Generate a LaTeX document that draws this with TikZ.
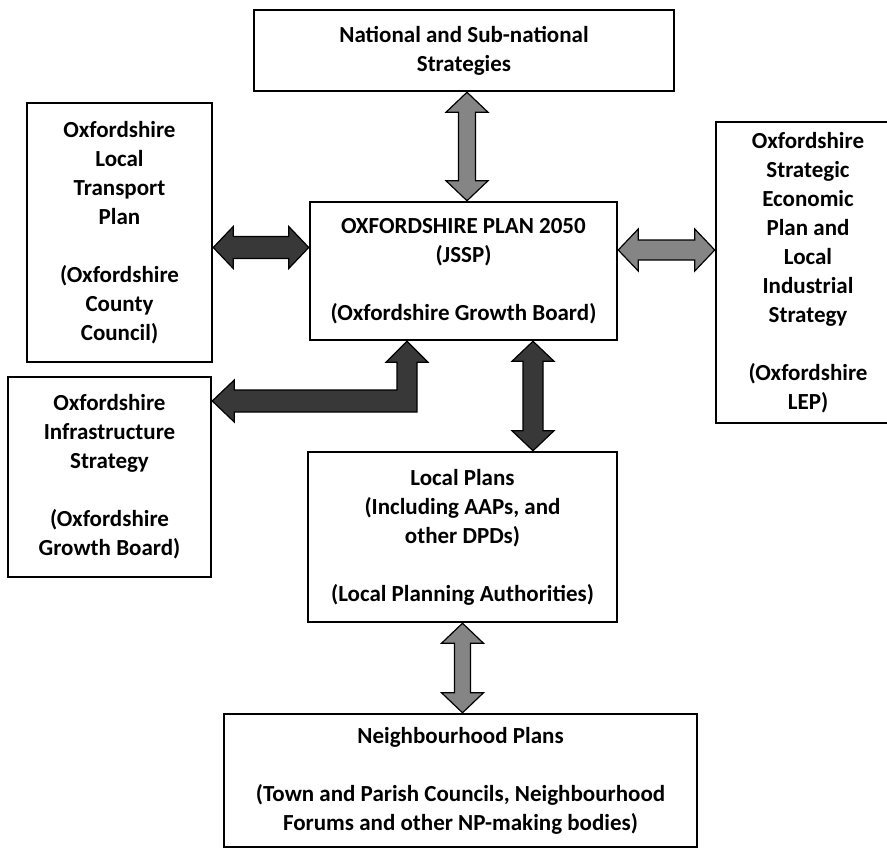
\documentclass[tikz,border=0pt]{standalone}
\usepackage{fontspec}
\setmainfont{Carlito}
\usetikzlibrary{calc}

\newcommand\headLen{20pt}
\newcommand\headWid{21pt}
\newcommand\boxLine{2.5pt}
\colorlet{darkFill}{black!78}
\colorlet{midFill}{black!48}

\tikzset{
  planbox/.style={draw, line width=\boxLine, align=center, inner sep=0pt,
    font=\bfseries\fontsize{23}{29}\selectfont},
  fatarrow/.style={draw=black, line width=1.2pt, line join=miter}
}

%% fat two-headed arrows: #1 first end, #2 second end, #3 half shaft, #4 fill
\newcommand\vArrow[4]{%
  \filldraw[fatarrow, fill=#4] let \p1=#1, \p2=#2 in
    (\x1,\y1) -- (\x1+\headWid,\y1-\headLen) -- (\x1+#3,\y1-\headLen)
    -- (\x1+#3,\y2+\headLen) -- (\x1+\headWid,\y2+\headLen) -- (\x1,\y2)
    -- (\x1-\headWid,\y2+\headLen) -- (\x1-#3,\y2+\headLen)
    -- (\x1-#3,\y1-\headLen) -- (\x1-\headWid,\y1-\headLen) -- cycle;}
\newcommand\hArrow[4]{%
  \filldraw[fatarrow, fill=#4] let \p1=#1, \p2=#2 in
    (\x1,\y1) -- (\x1+\headLen,\y1+\headWid) -- (\x1+\headLen,\y1+#3)
    -- (\x2-\headLen,\y1+#3) -- (\x2-\headLen,\y1+\headWid) -- (\x2,\y1)
    -- (\x2-\headLen,\y1-\headWid) -- (\x2-\headLen,\y1-#3)
    -- (\x1+\headLen,\y1-#3) -- (\x1+\headLen,\y1-\headWid) -- cycle;}

\begin{document}
\begin{tikzpicture}[x=1pt, y=-1pt]
    \useasboundingbox (0,0) rectangle (887,849);

    %% the plans
    \node[planbox, minimum width=420pt, minimum height=81pt] (nat) at (464,50.5)
      {National and Sub-national\\Strategies};
    \node[planbox, minimum width=307pt, minimum height=138pt] (plan) at (463.5,271)
      {OXFORDSHIRE PLAN 2050\\(JSSP)\\[29pt](Oxfordshire Growth Board)};
    \node[planbox, minimum width=185pt, minimum height=259pt] (ltp) at (119.5,232.5)
      {Oxfordshire\\Local\\Transport\\Plan\\[29pt](Oxfordshire\\County\\Council)};
    \node[planbox, minimum width=184pt, minimum height=301pt] (sep) at (808,272.5)
      {Oxfordshire\\Strategic\\Economic\\Plan and\\Local\\Industrial\\Strategy\\[29pt](Oxfordshire\\LEP)};
    \node[planbox, minimum width=203pt, minimum height=200pt] (ois) at (109.5,477)
      {Oxfordshire\\Infrastructure\\Strategy\\[29pt](Oxfordshire\\Growth Board)};
    \node[planbox, minimum width=309pt, minimum height=170pt] (lp) at (462.5,537)
      {Local Plans\\(Including AAPs, and\\other DPDs)\\[29pt](Local Planning Authorities)};
    \node[planbox, minimum width=473pt, minimum height=133pt] (np) at (460.5,780.5)
      {Neighbourhood Plans\\[29pt](Town and Parish Councils, Neighbourhood\\Forums and other NP-making bodies)};

    %% links between them
    \vArrow{($(nat.south)+(3,0)$)}{($(plan.north)+(3,0)$)}{8.5pt}{midFill}
    \hArrow{($(ltp.east)+(0,15)$)}{(plan.west)}{11pt}{darkFill}
    \hArrow{($(plan.east)+(0,-21)$)}{(sep.west)}{10pt}{midFill}
    \vArrow{($(plan.south)+(69.5,0)$)}{(lp.north)}{10pt}{darkFill}
    \vArrow{(lp.south)}{(np.north)}{8pt}{midFill}

    %% infrastructure link turns the corner
    \filldraw[fatarrow, fill=darkFill] let \p1=($(ois.east)+(0,-76)$), \p2=($(plan.south)+(-56.5,0)$) in
      (\x1,\y1) -- (\x1+22pt,\y1+\headWid) -- (\x1+22pt,\y1+11pt) -- (\x2-10pt,\y1+11pt)
      -- (\x2-10pt,\y2-\headWid) -- (\x2-\headWid,\y2-\headWid) -- (\x2,\y2)
      -- (\x2+\headWid,\y2-\headWid) -- (\x2+10pt,\y2-\headWid) -- (\x2+10pt,\y1-11pt)
      -- (\x1+22pt,\y1-11pt) -- (\x1+22pt,\y1-\headWid) -- cycle;

\end{tikzpicture}
\end{document}
